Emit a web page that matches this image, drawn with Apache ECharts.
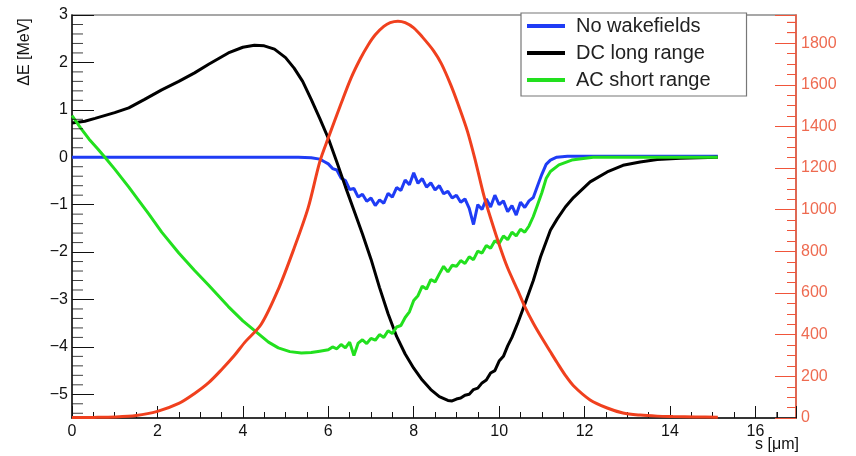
<!DOCTYPE html>
<html>
<head>
<meta charset="utf-8">
<script src="https://cdn.jsdelivr.net/npm/echarts@6/dist/echarts.min.js"></script>
<style>
  html, body { margin: 0; padding: 0; background: #fff; }
  #chart { width: 856px; height: 456px; }
</style>
</head>
<body>
<div id="chart"></div>
<script>
'use strict';

// s [um] / delta E [MeV]
var sBlue = [0, 5.3, 5.6, 5.8, 5.9,
  6.0, 6.1, 6.2, 6.3, 6.4, 6.5, 6.6, 6.7, 6.8, 6.9,
  7.0, 7.1, 7.2, 7.3, 7.4, 7.5, 7.6, 7.7, 7.8, 7.9,
  8.0, 8.1, 8.2, 8.3, 8.4, 8.5, 8.6, 8.7, 8.8, 8.9,
  9.0, 9.1, 9.2, 9.3, 9.4, 9.5, 9.6, 9.7, 9.8, 9.9,
  10.0, 10.1, 10.2, 10.3, 10.4, 10.5, 10.6, 10.7, 10.8, 10.9,
  11.0, 11.1, 11.2, 11.35, 11.6, 15.12];
var eBlue = [0, 0, -0.01, -0.04, -0.09,
  -0.14, -0.24, -0.27, -0.44, -0.49, -0.68, -0.66, -0.84, -0.78, -0.93,
  -0.86, -1.02, -0.90, -0.97, -0.76, -0.84, -0.64, -0.70, -0.48, -0.58,
  -0.33, -0.55, -0.45, -0.63, -0.54, -0.69, -0.60, -0.77, -0.72, -0.86,
  -0.80, -0.95, -0.88, -1.08, -1.42, -1.00, -1.10, -0.88, -1.05, -0.80,
  -1.00, -0.92, -1.15, -1.02, -1.22, -0.95, -1.06, -0.92, -0.85, -0.60,
  -0.36, -0.15, -0.06, 0.0, 0.02, 0.02];

var sBlack = [0, 0.3, 0.54, 1.0, 1.33, 1.7, 2.1, 2.5, 2.87, 3.2,
  3.66, 4.0, 4.27, 4.5, 4.74, 5.0, 5.2, 5.4, 5.6, 5.8,
  6.0, 6.2, 6.4, 6.6, 6.8, 7.0, 7.2, 7.4, 7.6, 7.8,
  8.0, 8.2, 8.4, 8.6, 8.8, 8.9, 9.0, 9.1, 9.2, 9.3,
  9.4, 9.5, 9.6, 9.7, 9.8, 9.9, 10.0, 10.1, 10.2, 10.3,
  10.43, 10.6, 10.8, 10.97, 11.2, 11.36, 11.55, 11.74, 12.13, 12.53,
  12.9, 13.3, 13.7, 14.24, 15.12];
var eBlack = [0.72, 0.76, 0.82, 0.94, 1.04, 1.22, 1.42, 1.6, 1.78, 1.96,
  2.2, 2.32, 2.36, 2.35, 2.28, 2.1, 1.88, 1.6, 1.22, 0.82,
  0.4, -0.1, -0.62, -1.12, -1.62, -2.15, -2.75, -3.3, -3.78, -4.15,
  -4.45, -4.7, -4.9, -5.05, -5.13, -5.14, -5.1, -5.08, -5.02, -5.0,
  -4.9, -4.87, -4.76, -4.7, -4.55, -4.5, -4.3, -4.2, -3.98, -3.8,
  -3.51, -3.1, -2.6, -2.1, -1.54, -1.3, -1.05, -0.85, -0.52, -0.31,
  -0.17, -0.1, -0.05, -0.02, 0];

var sGreen = [0, 0.2, 0.4, 0.6, 0.77, 1.0, 1.33, 1.56, 1.8, 2.1,
  2.5, 2.87, 3.2, 3.66, 4.0, 4.36, 4.6, 4.83, 5.1, 5.37, 5.6, 5.8,
  6.0, 6.1, 6.2, 6.3, 6.4, 6.5, 6.6, 6.7, 6.8, 6.9,
  7.0, 7.1, 7.2, 7.3, 7.4, 7.5, 7.6, 7.7, 7.8, 7.9,
  8.0, 8.1, 8.2, 8.3, 8.4, 8.5, 8.6, 8.7, 8.8, 8.9,
  9.0, 9.1, 9.2, 9.3, 9.4, 9.5, 9.6, 9.7, 9.8, 9.9,
  10.0, 10.1, 10.2, 10.3, 10.4, 10.5, 10.6, 10.7, 10.8, 10.9,
  11.0, 11.1, 11.2, 11.4, 11.7, 12.2, 15.12];
var eGreen = [0.88, 0.62, 0.38, 0.18, 0.0, -0.25, -0.63, -0.91, -1.2, -1.58,
  -2.02, -2.39, -2.7, -3.15, -3.45, -3.72, -3.9, -4.02, -4.1, -4.13, -4.12, -4.09,
  -4.06, -4.00, -4.04, -3.95, -4.02, -3.90, -4.18, -3.92, -3.85, -3.93,
  -3.82, -3.86, -3.74, -3.80, -3.66, -3.72, -3.58, -3.55, -3.38, -3.26,
  -3.02, -2.92, -2.72, -2.78, -2.58, -2.63, -2.46, -2.30, -2.42, -2.28,
  -2.30, -2.18, -2.24, -2.10, -2.16, -1.98, -2.02, -1.86, -1.92, -1.76,
  -1.82, -1.66, -1.74, -1.58, -1.66, -1.52, -1.58, -1.45, -1.25, -1.00,
  -0.75, -0.45, -0.30, -0.16, -0.06, 0.0, 0.0];

// bunch profile, right axis
var sRed = [0, 0.5, 1.0, 1.5, 2.0, 2.5, 2.87, 3.2, 3.5, 3.8,
  4.04, 4.43, 4.83, 5.2, 5.53, 5.8, 6.0, 6.3, 6.53, 6.75,
  6.93, 7.1, 7.3, 7.45, 7.63, 7.8, 8.0, 8.2, 8.47, 8.65,
  8.87, 9.05, 9.26, 9.45, 9.64, 9.8, 10.03, 10.2, 10.43, 10.6,
  10.8, 10.97, 11.2, 11.36, 11.55, 11.74, 12.13, 12.53, 12.9, 13.3,
  13.7, 14.07, 14.6, 15.12];
var nRed = [2, 3, 5, 12, 32, 70, 118, 170, 232, 300,
  362, 450, 618, 815, 1010, 1230, 1345, 1510, 1631, 1725,
  1790, 1840, 1880, 1898, 1905, 1898, 1873, 1830, 1762, 1700,
  1598, 1500, 1375, 1230, 1070, 960, 815, 720, 615, 535,
  455, 395, 318, 265, 205, 155, 87, 48, 24, 14,
  9, 7, 5, 4];

var leftTicks = [-5, -4, -3, -2, -1, 0, 1, 2, 3];
var seriesNames = ['No wakefields', 'DC long range', 'AC short range'];

function pairs(xs, ys) {
  var out = [];
  for (var i = 0; i < xs.length; i++) {
    out.push([xs[i], ys[i]]);
  }
  return out;
}

var font = '"Liberation Sans", Arial, sans-serif';
var minus = function (v) { return String(v).replace('-', '\u2212'); };
var redAxis = '#f0553a';
var sMax = 16.95, eMin = -5.5;

// small ticks the axes don't draw themselves (every 0.2 on the left,
// 1850/1900 on the right, 16.5 at the bottom), drawn as thin rect marks
var leftMinor = [];
for (var k = -27; k <= 15; k++) {
  if (k % 5 !== 0) leftMinor.push([0, k / 5]);
}

function tickSeries(data, yAxisIndex, size, offset, color) {
  return {
    type: 'scatter', yAxisIndex: yAxisIndex, data: data, silent: true, clip: false,
    symbol: 'rect', symbolSize: size, symbolOffset: offset,
    itemStyle: { color: color }, z: 5,
  };
}

var chart = echarts.init(document.getElementById('chart'), null, { renderer: 'canvas' });
chart.setOption({
  animation: false,
  backgroundColor: '#fff',
  tooltip: { show: false },
  grid: {
    left: 72, right: 60, top: 15, bottom: 38,
    show: true, borderColor: '#8a8a8a', borderWidth: 1.5,
  },
  legend: {
    data: seriesNames,
    orient: 'vertical',
    left: 521, top: 13,
    padding: [3, 36, 6, 6],
    itemGap: 7,
    itemWidth: 38, itemHeight: 4,
    icon: 'rect',
    backgroundColor: '#fff',
    borderColor: '#777', borderWidth: 1.2,
    textStyle: { fontFamily: font, fontSize: 20, color: '#222', padding: [0, 0, 0, 6] },
  },
  xAxis: {
    type: 'value', min: 0, max: sMax, interval: 2,
    axisLine: { onZero: false, lineStyle: { color: '#111', width: 1.5 } },
    axisTick: { inside: true, length: 12, lineStyle: { color: '#111' } },
    minorTick: { show: true, splitNumber: 4, length: 6, lineStyle: { color: '#111' } },
    splitLine: { show: false },
    axisLabel: { fontFamily: font, fontSize: 16, color: '#111', margin: 6, showMaxLabel: false },
  },
  yAxis: [{
    type: 'value', min: eMin, max: 3, position: 'left',
    axisLine: { show: true, onZero: false, lineStyle: { color: '#111', width: 1.5 } },
    axisTick: { show: true, inside: true, length: 22, customValues: leftTicks, lineStyle: { color: '#111' } },
    splitLine: { show: false },
    axisLabel: { fontFamily: font, fontSize: 16, color: '#111', margin: 4, customValues: leftTicks, formatter: minus },
  }, {
    type: 'value', min: 0, max: 1935, interval: 200, position: 'right',
    axisLine: { show: true, onZero: false, lineStyle: { color: redAxis, width: 1.5 } },
    axisTick: { inside: true, length: 21, lineStyle: { color: redAxis } },
    minorTick: { show: true, splitNumber: 4, length: 9, lineStyle: { color: redAxis } },
    splitLine: { show: false },
    axisLabel: {
      fontFamily: font, fontSize: 16, color: '#ee6a50', margin: 5, showMaxLabel: false,
      formatter: function (v) { return String(v); },
    },
  }],
  graphic: [{
    type: 'text', x: 25, y: 52, rotation: Math.PI / 2,
    style: { text: '\u0394E [MeV]', font: '16px ' + font, fill: '#111', align: 'center', verticalAlign: 'middle' },
  }, {
    type: 'text', x: 799, y: 445,
    style: { text: 's [\u03bcm]', font: '16px ' + font, fill: '#111', align: 'right', verticalAlign: 'middle' },
  }],
  series: [{
    name: seriesNames[0], type: 'line', yAxisIndex: 0, showSymbol: false,
    color: '#1f3cf5', lineStyle: { width: 3 }, data: pairs(sBlue, eBlue),
  }, {
    name: seriesNames[1], type: 'line', yAxisIndex: 0, showSymbol: false,
    color: '#000', lineStyle: { width: 3 }, data: pairs(sBlack, eBlack),
  }, {
    name: seriesNames[2], type: 'line', yAxisIndex: 0, showSymbol: false,
    color: '#22e01e', lineStyle: { width: 3 }, data: pairs(sGreen, eGreen),
  }, {
    name: 'bunch', type: 'line', yAxisIndex: 1, showSymbol: false, smooth: 0.3,
    color: '#f0401e', lineStyle: { width: 3 }, data: pairs(sRed, nRed),
  },
    tickSeries(leftMinor, 0, [11, 1], [5.5, 0], '#111'),
    tickSeries([[sMax, 1850], [sMax, 1900]], 1, [9, 1], [-4.5, 0], redAxis),
    tickSeries([[16.5, eMin]], 0, [1, 6], [0, -3], '#111'),
  ],
});
</script>
</body>
</html>
